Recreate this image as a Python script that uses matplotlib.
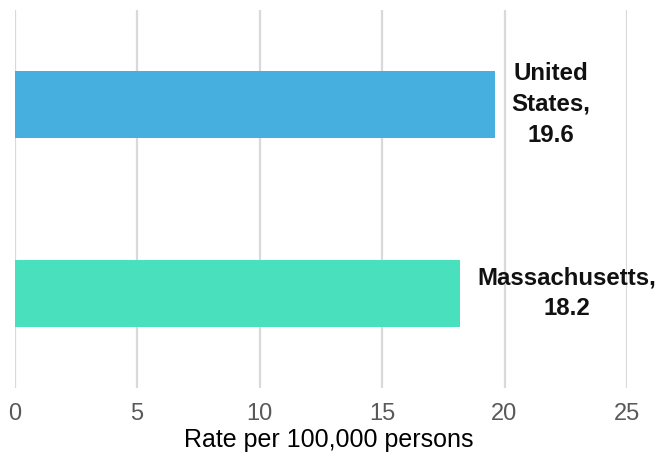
import matplotlib
matplotlib.use("Agg")
import matplotlib.pyplot as plt

names = ["Massachusetts", "United States"]
rates = [18.2, 19.6]
labels = ["Massachusetts,\n18.2", "United\nStates,\n19.6"]
colors = ["#48E0BD", "#47AFE0"]
xticks = [0, 5, 10, 15, 20, 25]

fig = plt.figure(figsize=(6.62, 4.57), dpi=100)
ax = fig.add_axes([14.5/662, 1-388/457, (627-14.5)/662, 378/457])

ypos = list(range(len(names)))
ax.barh(ypos, rates, height=0.357, color=colors, zorder=3)

for y, r, lab in zip(ypos, rates, labels):
    ax.annotate(lab, xy=(r, y), xytext=(12, 0), textcoords="offset points",
                ha="left", va="center", multialignment="center",
                fontsize=17.3, fontweight="bold", family="Liberation Sans",
                linespacing=1.42, color="#111111", zorder=4, annotation_clip=False)

ax.set_xlim(0, 25)
ax.set_ylim(-0.5, 1.5)
ax.set_xticks(xticks)
ax.set_xticklabels([str(t) for t in xticks], family="Liberation Sans", fontsize=17, color="#595959")
ax.set_yticks([])
ax.tick_params(axis="x", length=0, pad=11)
ax.grid(axis="x", color="#D9D9D9", linewidth=1.6, zorder=0)
for s in ax.spines.values():
    s.set_visible(False)
ax.set_xlabel("Rate per 100,000 persons", family="Liberation Sans", fontsize=18, color="black")
ax.xaxis.set_label_coords(0.513, -0.105)

fig.savefig("out.png", dpi=100)
